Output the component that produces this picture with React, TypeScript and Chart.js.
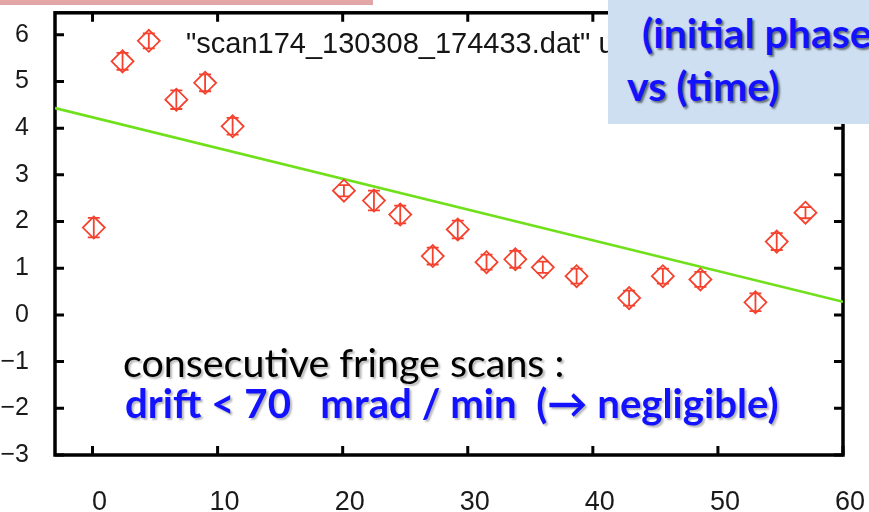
import React, { useEffect, useRef } from 'react';
import { Chart, registerables } from 'chart.js';

Chart.register(...registerables);

// Initial fringe phase of each consecutive scan (rad) against time (min)
const scanTime = [0.1, 2.4, 4.5, 6.7, 9.0, 11.2, 20.1, 22.5, 24.6, 27.2, 29.2, 31.5, 33.8, 36.0, 38.7, 42.9, 45.6, 48.6, 53.0, 54.7, 57.0];
const initialPhase = [1.87, 5.43, 5.87, 4.61, 4.97, 4.04, 2.66, 2.45, 2.15, 1.26, 1.83, 1.13, 1.19, 1.02, 0.83, 0.36, 0.83, 0.76, 0.27, 1.57, 2.19];
const phaseError = [0.21, 0.18, 0.16, 0.2, 0.18, 0.18, 0.12, 0.21, 0.19, 0.18, 0.19, 0.16, 0.18, 0.12, 0.16, 0.16, 0.16, 0.16, 0.19, 0.18, 0.12];

// Linear drift fit, evaluated at the ends of the time axis
const fitTime = [-3, 60];
const fitPhase = [4.43, 0.28];

const xTickValues = [0, 10, 20, 30, 40, 50, 60];
const yTickValues = [-3, -2, -1, 0, 1, 2, 3, 4, 5, 6];
const xRange = [-3, 60];
const yRange = [-3, 6.47];

const keyLabel = '"scan174_130308_174433.dat" using 1:2:3';

const MARK_RED = '#f4422e';
const FIT_GREEN = '#6fe01a';
const TICK_LEN = 9;

const fmtTick = (v: number) => (v < 0 ? '\u2212' + Math.abs(v) : String(v));

// gnuplot-style boxed frame with inward ticks on all four sides
const frameTicks = {
  id: 'frameTicks',
  beforeDatasetsDraw(chart: any) {
    const { ctx, chartArea: a, scales } = chart;
    const xs = scales.x;
    const ys = scales.y;
    ctx.save();
    ctx.strokeStyle = '#000';
    ctx.lineWidth = 3.5;
    ctx.strokeRect(a.left, a.top, a.right - a.left, a.bottom - a.top);
    ctx.lineWidth = 3;
    ctx.beginPath();
    xs.ticks.forEach((t: any) => {
      const px = xs.getPixelForValue(t.value);
      ctx.moveTo(px, a.bottom);
      ctx.lineTo(px, a.bottom - TICK_LEN);
      ctx.moveTo(px, a.top);
      ctx.lineTo(px, a.top + TICK_LEN);
    });
    ys.ticks.forEach((t: any) => {
      const py = ys.getPixelForValue(t.value);
      ctx.moveTo(a.left, py);
      ctx.lineTo(a.left + TICK_LEN, py);
      ctx.moveTo(a.right, py);
      ctx.lineTo(a.right - TICK_LEN, py);
    });
    ctx.stroke();
    ctx.restore();
  },
};

// Vertical error bars with small caps, drawn inside each diamond
const errorBars = {
  id: 'errorBars',
  afterDatasetsDraw(chart: any) {
    const { ctx } = chart;
    const ys = chart.scales.y;
    const meta = chart.getDatasetMeta(0);
    ctx.save();
    ctx.strokeStyle = MARK_RED;
    ctx.lineWidth = 1.8;
    ctx.beginPath();
    meta.data.forEach((el: any, i: number) => {
      const x = el.x;
      const top = ys.getPixelForValue(initialPhase[i] + phaseError[i]);
      const bot = ys.getPixelForValue(initialPhase[i] - phaseError[i]);
      ctx.moveTo(x, top);
      ctx.lineTo(x, bot);
      ctx.moveTo(x - 6, top);
      ctx.lineTo(x + 6, top);
      ctx.moveTo(x - 6, bot);
      ctx.lineTo(x + 6, bot);
    });
    ctx.stroke();
    ctx.restore();
  },
};

// Key entry text in the top of the plot
const keyText = {
  id: 'keyText',
  afterDraw(chart: any) {
    const { ctx } = chart;
    ctx.save();
    ctx.font = '29px "Liberation Sans"';
    ctx.fillStyle = '#151515';
    ctx.textBaseline = 'alphabetic';
    ctx.textAlign = 'left';
    ctx.fillText(keyLabel, 186, 53);
    ctx.restore();
  },
};

type LabelProps = {
  x: number;
  baseline: number;
  size: number;
  weight?: number;
  color: string;
  shadow?: string;
  scaleX?: number;
  children: React.ReactNode;
};

function Label({ x, baseline, size, weight = 400, color, shadow, scaleX = 1, children }: LabelProps) {
  return (
    <div
      style={{
        position: 'absolute',
        left: x,
        top: baseline - 0.888 * size,
        fontFamily: 'Lato, "Open Sans", sans-serif',
        fontSize: size,
        fontWeight: weight,
        lineHeight: `${size}px`,
        whiteSpace: 'pre',
        color,
        textShadow: shadow,
        transform: `scaleX(${scaleX})`,
        transformOrigin: '0 0',
      }}
    >
      {children}
    </div>
  );
}

export default function App() {
  const canvasRef = useRef<HTMLCanvasElement>(null);

  useEffect(() => {
    const canvas = canvasRef.current;
    if (!canvas) return;
    const chart = new Chart(canvas, {
      type: 'scatter',
      data: {
        datasets: [
          {
            label: keyLabel,
            data: scanTime.map((t, i) => ({ x: t, y: initialPhase[i] })),
            pointStyle: 'rectRot',
            pointRadius: 11,
            pointBorderWidth: 1.8,
            pointBorderColor: MARK_RED,
            pointBackgroundColor: 'rgba(0,0,0,0)',
            showLine: false,
            order: 1,
          },
          {
            label: 'fit',
            data: fitTime.map((t, i) => ({ x: t, y: fitPhase[i] })),
            showLine: true,
            borderColor: FIT_GREEN,
            borderWidth: 2.6,
            pointRadius: 0,
            order: 2,
          },
        ],
      },
      options: {
        responsive: false,
        animation: false,
        devicePixelRatio: 1,
        layout: { padding: { top: 12, right: 26, left: 0, bottom: 0 } },
        plugins: {
          legend: { display: false },
          tooltip: { enabled: false },
        },
        scales: {
          x: {
            type: 'linear',
            min: xRange[0],
            max: xRange[1],
            grid: { display: false },
            border: { display: false },
            afterBuildTicks: (s: any) => {
              s.ticks = xTickValues.map((v) => ({ value: v }));
            },
            afterFit: (s: any) => {
              s.height = 57;
              s.paddingLeft = 0;
              s.paddingRight = 0;
            },
            ticks: {
              padding: 23,
              labelOffset: 7,
              maxRotation: 0,
              autoSkip: false,
              color: '#1a1a1a',
              font: { family: '"Liberation Sans"', size: 27 },
              callback: (v: any) => fmtTick(Number(v)),
            },
          },
          y: {
            type: 'linear',
            min: yRange[0],
            max: yRange[1],
            grid: { display: false },
            border: { display: false },
            afterBuildTicks: (s: any) => {
              s.ticks = yTickValues.map((v) => ({ value: v }));
            },
            afterFit: (s: any) => {
              s.width = 55;
              s.paddingTop = 0;
              s.paddingBottom = 0;
            },
            ticks: {
              padding: 18,
              autoSkip: false,
              color: '#1a1a1a',
              font: { family: '"Liberation Sans"', size: 25 },
              callback: (v: any) => fmtTick(Number(v)),
            },
          },
        },
      },
      plugins: [frameTicks, errorBars, keyText],
    } as any);
    return () => chart.destroy();
  }, []);

  const blue = '#1212ff';
  const softShadow = '2px 2px 2px rgba(0,0,0,0.28)';
  const boxShadow = '2px 2px 2px rgba(0,0,0,0.5)';

  return (
    <div
      style={{
        position: 'fixed',
        left: 0,
        top: 0,
        width: 869,
        height: 512,
        overflow: 'hidden',
        background: '#ffffff',
      }}
    >
      <canvas
        ref={canvasRef}
        width={869}
        height={512}
        style={{ position: 'absolute', left: 0, top: 0, width: 869, height: 512 }}
      />
      <div style={{ position: 'absolute', left: 0, top: 0, width: 373, height: 5, background: '#e2a6a6' }} />
      <div
        style={{
          position: 'absolute',
          left: 608,
          top: 0,
          width: 261,
          height: 124,
          background: '#cedff2',
          overflow: 'hidden',
        }}
      />
      <Label x={642} baseline={48} size={41} weight={700} color={blue} shadow={boxShadow}>
        (initial phase
      </Label>
      <Label x={627} baseline={101} size={41} weight={700} color={blue} shadow={boxShadow}>
        vs (time)
      </Label>
      <Label x={123} baseline={378} size={39} scaleX={1.01} color="#000" shadow={softShadow}>
        consecutive fringe scans :
      </Label>
      <Label x={125} baseline={419} size={40} scaleX={1.005} weight={700} color={blue} shadow={softShadow}>
        {'drift < 70   mrad / min  (\u2192 negligible)'}
      </Label>
    </div>
  );
}
